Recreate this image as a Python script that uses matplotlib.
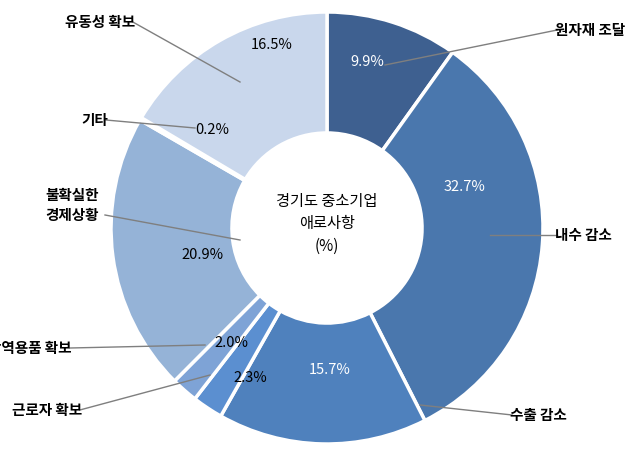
import matplotlib
matplotlib.use("Agg")
import matplotlib.pyplot as plt

plt.rcParams['font.family'] = ['Noto Sans CJK KR', 'DejaVu Sans']

labels = ["원자재 조달", "내수 감소", "수출 감소", "근로자 확보", "방역용품 확보", "불확실한\n경제상황", "기타", "유동성 확보"]
values = [9.9, 32.7, 15.7, 2.3, 2.0, 20.9, 0.2, 16.5]
pct_text = ["9.9%", "32.7%", "15.7%", "2.3%", "2.0%", "20.9%", "0.2%", "16.5%"]
colors = ["#3e6090", "#4a77ad", "#4f81bd", "#5b8fd0", "#7ea3d6", "#95b3d7", "#b7cbe6", "#c9d7ec"]
pct_colors = ["white", "white", "white", "black", "black", "black", "black", "black"]

fig = plt.figure(figsize=(6.4, 4.53), dpi=100)
cx, cy, R = 327, 453 - 228, 216
ax = fig.add_axes([(cx - R) / 640, (cy - R) / 453, 2 * R / 640, 2 * R / 453])
ax.pie(values, colors=colors, startangle=90, counterclock=False, radius=1,
       wedgeprops=dict(width=0.56, edgecolor="white", linewidth=2.5))
ax.set_xlim(-1, 1); ax.set_ylim(-1, 1); ax.set_aspect("equal"); ax.axis("off")

def d(px, py):
    return ((px - cx) / R, ((453 - py) - cy) / R)

lab_pos = [(555, 30), (555, 235), (510, 415), (82, 410), (72, 348), (45, 205), (108, 120), (135, 22)]
line_to = [(385, 65), (490, 235), (420, 405), (210, 375), (205, 345), (240, 240), (195, 128), (240, 82)]
ha = ["left", "left", "left", "right", "right", "left", "right", "right"]
pct_pos = [(367, 62), (465, 187), (330, 370), (250, 378), (231, 343), (202, 255), (212, 130), (272, 45)]

for i in range(len(values)):
    tx, ty = d(*lab_pos[i])
    lx, ly = d(*line_to[i])
    if i == 5:
        sx, sy = d(105, 215)
    else:
        sx, sy = tx + (0.01 if ha[i] == "left" else -0.01), ty
    ax.plot([sx, lx], [sy, ly], color="#7f7f7f", lw=1, clip_on=False)
    ax.text(tx, ty, labels[i], ha=ha[i], va="center", fontsize=10.5, fontweight="bold", clip_on=False,
            linespacing=1.3)
    px, py = d(*pct_pos[i])
    ax.text(px, py, pct_text[i], ha="center", va="center", fontsize=10.5, color=pct_colors[i])

ax.text(0, 0.02, "경기도 중소기업\n애로사항\n(%)", ha="center", va="center", fontsize=11, linespacing=1.4)
fig.savefig("out.png", dpi=100)
